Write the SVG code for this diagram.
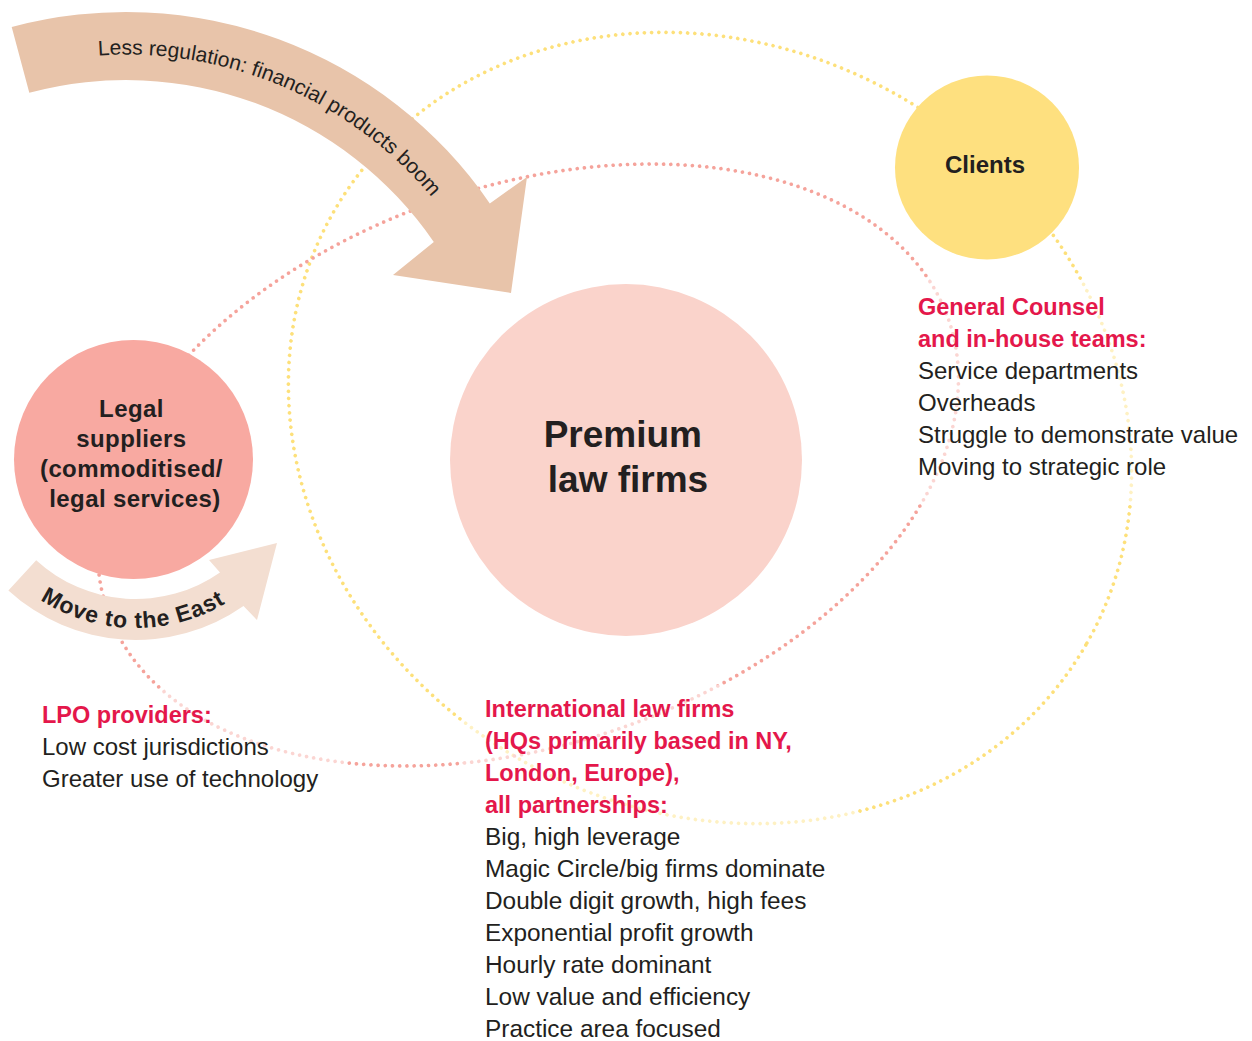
<svg xmlns="http://www.w3.org/2000/svg" width="1252" height="1041" viewBox="0 0 1252 1041">
  <style>
    .dots { fill: none; stroke-width: 3.6; stroke-linecap: round; stroke-dasharray: 0 7.2; }
    .ydots { stroke: #FDE07A; }
    .pdots { stroke: #F5A39B; }
    .dark { fill: #231F20; font-family: "Liberation Sans", Arial, sans-serif; }
    .bold { font-weight: bold; }
    .red { fill: #E4174B; font-family: "Liberation Sans", Arial, sans-serif; font-weight: bold; font-size: 23.5px; }
    .body { font-size: 24px; }
    .halo { fill: #FFFFFF; fill-opacity: 0.55; }
  </style>
  <defs>
    <path id="arcBig" d="M 98.2 55.5 A 399 399 0 0 1 471.5 254"/>
    <path id="arcEast" d="M 11.2 576.5 A 176 176 0 0 0 255.7 580.7"/>
  </defs>
  <rect width="1252" height="1041" fill="#FFFFFF"/>

  <g id="connectors">
    <ellipse class="dots ydots" cx="710" cy="428" rx="434" ry="382" transform="rotate(30 710 428)"/>
    <ellipse class="dots pdots" cx="528" cy="465" rx="445" ry="279" transform="rotate(-19 528 465)"/>
    <g id="arrow-regulation">
      <path d="M 11.7 27 A 441.5 441.5 0 0 1 489.8 203.4 L 527 177 L 511 293 L 393 275 L 433.8 242 A 373.5 373.5 0 0 0 29.3 92.7 Z" fill="#E8C4AA"/>
      <text class="dark" font-size="21"><textPath href="#arcBig">Less regulation: financial products boom</textPath></text>
    </g>
    <g id="arrow-east">
      <path d="M 8.4 590.4 A 188 188 0 0 0 243.5 606 L 257 620 L 277 543 L 209 560 L 220 572.4 A 147 147 0 0 1 36.2 560.2 Z" fill="#F3DED1"/>
      <text class="dark bold" font-size="23" letter-spacing="0.8" text-anchor="middle"><textPath href="#arcEast" startOffset="50%">Move to the East</textPath></text>
    </g>
  </g>

  <g id="legal-suppliers">
    <circle cx="133.5" cy="459.5" r="119.5" fill="#F8A9A1"/>
    <text class="dark bold" font-size="24" letter-spacing="0.4" text-anchor="middle">
      <tspan x="135" y="417">Legal</tspan>
      <tspan x="135" y="447">suppliers</tspan>
      <tspan x="135" y="477">(commoditised/</tspan>
      <tspan x="135" y="507">legal services)</tspan>
    </text>
  </g>

  <g id="premium-law-firms">
    <circle cx="626" cy="460" r="176" fill="#FAD3CB"/>
    <text class="dark bold" font-size="37" text-anchor="middle">
      <tspan x="628" y="447">Premium</tspan>
      <tspan x="628" y="492">law firms</tspan>
    </text>
  </g>

  <g id="clients">
    <circle cx="987" cy="167.5" r="92" fill="#FEE07F"/>
    <text class="dark bold" font-size="24" text-anchor="middle" x="985" y="173">Clients</text>
  </g>

  <g id="general-counsel">
    <rect class="halo" x="900" y="280" width="352" height="222"/>
    <text class="red"><tspan x="918" y="315">General Counsel</tspan><tspan x="918" y="347">and in-house teams:</tspan></text>
    <text class="dark body">
      <tspan x="918" y="379">Service departments</tspan>
      <tspan x="918" y="411">Overheads</tspan>
      <tspan x="918" y="443">Struggle to demonstrate value</tspan>
      <tspan x="918" y="475">Moving to strategic role</tspan>
    </text>
  </g>

  <g id="lpo-providers">
    <rect class="halo" x="25" y="690" width="320" height="115"/>
    <text class="red"><tspan x="42" y="723">LPO providers:</tspan></text>
    <text class="dark body">
      <tspan x="42" y="755">Low cost jurisdictions</tspan>
      <tspan x="42" y="787">Greater use of technology</tspan>
    </text>
  </g>

  <g id="international-law-firms">
    <rect class="halo" x="463" y="685" width="392" height="356"/>
    <text class="red">
      <tspan x="485" y="717">International law firms</tspan>
      <tspan x="485" y="749">(HQs primarily based in NY,</tspan>
      <tspan x="485" y="781">London, Europe),</tspan>
      <tspan x="485" y="813">all partnerships:</tspan>
    </text>
    <text class="dark" font-size="24.4">
      <tspan x="485" y="845">Big, high leverage</tspan>
      <tspan x="485" y="877">Magic Circle/big firms dominate</tspan>
      <tspan x="485" y="909">Double digit growth, high fees</tspan>
      <tspan x="485" y="941">Exponential profit growth</tspan>
      <tspan x="485" y="973">Hourly rate dominant</tspan>
      <tspan x="485" y="1005">Low value and efficiency</tspan>
      <tspan x="485" y="1037">Practice area focused</tspan>
    </text>
  </g>
</svg>
